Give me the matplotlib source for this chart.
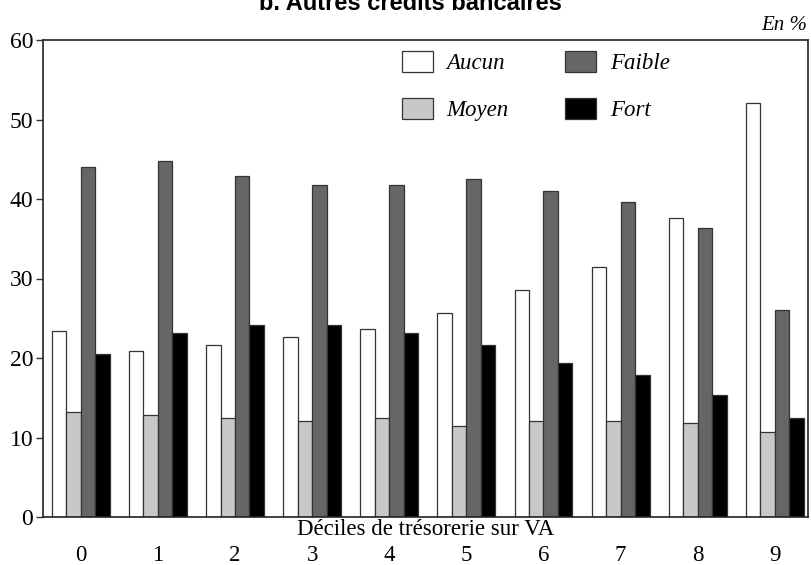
import numpy as np
import matplotlib.pyplot as plt

# Deciles de tresorerie sur VA, part des entreprises (en %)
deciles = ['0', '1', '2', '3', '4', '5', '6', '7', '8', '9']
aucun = [23.4, 20.9, 21.6, 22.7, 23.7, 25.6, 28.6, 31.4, 37.6, 52.1]
moyen = [13.2, 12.8, 12.5, 12.1, 12.5, 11.4, 12.1, 12.1, 11.8, 10.7]
faible = [44.0, 44.8, 42.9, 41.8, 41.8, 42.5, 41.0, 39.6, 36.3, 26.0]
fort = [20.5, 23.1, 24.2, 24.2, 23.1, 21.6, 19.4, 17.9, 15.4, 12.4]

series = [('Aucun', aucun, '#ffffff'),
          ('Moyen', moyen, '#c8c8c8'),
          ('Faible', faible, '#666666'),
          ('Fort', fort, '#000000')]

serif = 'Liberation Serif'
fig = plt.figure(figsize=(8.11, 5.65), dpi=100)
ax = fig.add_axes([43/811, 1-517/565, 765/811, 477/565])

x = np.arange(len(deciles))
w = 0.1875
for i, (name, vals, col) in enumerate(series):
    ax.bar(x + (i - 1.5)*w, vals, width=w, color=col, edgecolor='#333333',
           linewidth=0.9, label=name)

ax.set_xlim(-0.49, 9.43)
ax.set_ylim(0, 60)
ax.set_yticks(range(0, 61, 10))
ax.set_xticks(x)
ax.set_xticklabels(deciles, fontfamily=serif, fontsize=16.5)
for lab in ax.get_yticklabels():
    lab.set_fontfamily(serif)
    lab.set_fontsize(17)
ax.tick_params(axis='x', length=0, pad=20)
ax.tick_params(axis='y', length=5, width=1, pad=2, color='#333333')
for s in ax.spines.values():
    s.set_linewidth(1.2)
    s.set_color('#222222')

ax.set_xlabel('Déciles de trésorerie sur VA', fontfamily=serif, fontsize=16.5)
ax.xaxis.set_label_coords(0.5, -0.004)

leg = ax.legend(loc='upper left', bbox_to_anchor=(402/811, 1-51/565),
                bbox_transform=fig.transFigure, ncol=2, frameon=False,
                borderpad=0, borderaxespad=0, handlelength=1.35,
                handleheight=1.0, handletextpad=0.6, columnspacing=2.45,
                labelspacing=1.05, prop={'family': serif, 'style': 'italic', 'size': 16.5})

fig.text(410/811, 1-10/565, 'b. Autres crédits bancaires', ha='center',
         va='baseline', fontfamily='Liberation Sans', fontweight='bold', fontsize=17)
fig.text(807/811, 1-25/565, 'En %', ha='right', va='center',
         fontfamily=serif, fontstyle='italic', fontsize=15)

fig.savefig('out.png', dpi=100)
